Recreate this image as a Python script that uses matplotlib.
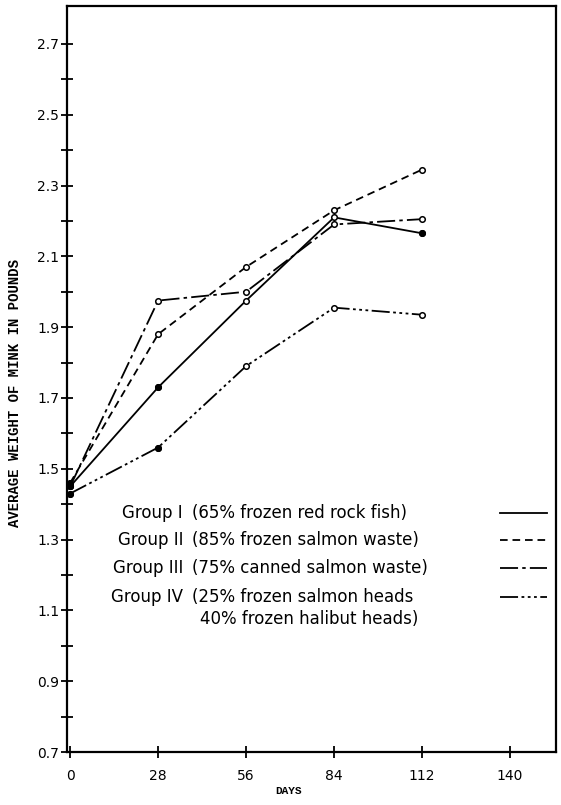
import matplotlib
matplotlib.use("Agg")
import matplotlib.pyplot as plt
from matplotlib.lines import Line2D
import numpy as np

# days on test and average weight (lb) per group
days = [0, 28, 56, 84, 112]
group_1 = [1.45, 1.73, 1.975, 2.21, 2.165]   # solid
group_2 = [1.46, 1.88, 2.07, 2.23, 2.345]    # dashed
group_3 = [1.45, 1.975, 2.0, 2.19, 2.205]    # long-short dash
group_4 = [1.43, 1.56, 1.79, 1.955, 1.935]   # long dash, three dots

group_names = ["Group I", "Group II", "Group III", "Group IV"]
group_diets = ["(65% frozen red rock fish)",
               "(85% frozen salmon waste)",
               "(75% canned salmon waste)",
               "(25% frozen salmon heads"]
extra_line = "40% frozen halibut heads)"

x_ticks = [0, 28, 56, 84, 112, 140]
y_major = [0.7, 0.9, 1.1, 1.3, 1.5, 1.7, 1.9, 2.1, 2.3, 2.5, 2.7]

plt.rcParams['lines.scale_dashes'] = False
plt.rcParams['font.family'] = ['DejaVu Sans']

W, H = 561, 805
fig = plt.figure(figsize=(W / 100, H / 100), dpi=100)

def fx(px):
    return px / W

def fy(py):
    return 1 - py / H

ax = fig.add_axes([fx(67), fy(752), fx(556) - fx(67), fy(6) - fy(752)])

styles = [
    dict(linestyle='-'),
    dict(dashes=(5.5, 3.5)),
    dict(dashes=(13, 3, 2.5, 3)),
    dict(dashes=(13, 2.5, 2, 2.5, 2, 2.5, 2, 2.5)),
]
# which points were drawn as filled dots
filled = [[0, 1, 4], [0], [0], [0, 1]]

series = [group_1, group_2, group_3, group_4]
for vals, st, fill in zip(series, styles, filled):
    ax.plot(days, vals, color='black', lw=1.3, marker='o', ms=4,
            mfc='white', mec='black', mew=1.1, **st)
    d = np.array(days)[fill]
    v = np.array(vals)[fill]
    ax.plot(d, v, ls='none', marker='o', ms=4, mfc='black', mec='black')

ax.set_xlim(-1, 154.6)
ax.set_ylim(0.7, 2.807)

ax.set_xticks(x_ticks)
ax.set_xticklabels([str(t) for t in x_ticks])
ax.set_yticks(y_major)
ax.set_yticklabels([f"{t:.1f}" for t in y_major])
ax.set_yticks(np.arange(0.8, 2.7, 0.2), minor=True)

ax.tick_params(axis='both', which='both', direction='inout', color='black',
               width=1.3, labelsize=10)
ax.tick_params(axis='y', which='major', length=9, pad=1)
ax.tick_params(axis='y', which='minor', length=9)
ax.tick_params(axis='x', length=8, pad=8)

for s in ax.spines.values():
    s.set_linewidth(1.6)

# legend block drawn inside the plot
row_y = [513, 540, 568, 597]
for i, (name, diet) in enumerate(zip(group_names, group_diets)):
    fig.text(fx(183), fy(row_y[i]), name, ha='right', va='center', fontsize=12)
    fig.text(fx(192), fy(row_y[i]), diet, ha='left', va='center', fontsize=12)
    key = Line2D([fx(500), fx(547)], [fy(row_y[i]), fy(row_y[i])],
                 transform=fig.transFigure, color='black', lw=1.3, **styles[i])
    fig.add_artist(key)
fig.text(fx(200), fy(619), extra_line, ha='left', va='center', fontsize=12)

fig.text(fx(15), fy(393), "AVERAGE WEIGHT OF MINK IN POUNDS", rotation=90,
         ha='center', va='center', fontsize=10, fontweight='bold',
         family='Liberation Mono')
fig.text(fx(288), fy(791), "DAYS", ha='center', va='center', fontsize=8,
         fontweight='bold', family='Liberation Mono')

fig.savefig("out.png", dpi=100)
